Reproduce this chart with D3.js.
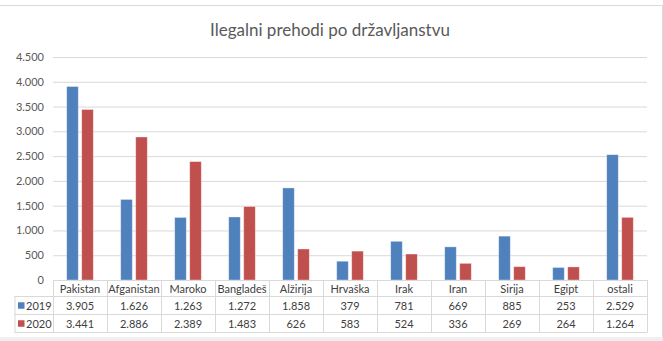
<!DOCTYPE html>
<html>
<head>
<meta charset="utf-8">
<script src="https://cdn.jsdelivr.net/npm/d3@7"></script>
<style>
  html, body { margin: 0; padding: 0; background: #fff; }
  svg { display: block; font-family: Lato, "Noto Sans", sans-serif; }
</style>
</head>
<body>
<svg id="chart" width="663" height="341"></svg>
<script>
const title = "Ilegalni prehodi po državljanstvu";
const categories = ["Pakistan", "Afganistan", "Maroko", "Bangladeš", "Alžirija", "Hrvaška", "Irak", "Iran", "Sirija", "Egipt", "ostali"];
const seriesNames = ["2019", "2020"];
const values2019 = [3905, 1626, 1263, 1272, 1858, 379, 781, 669, 885, 253, 2529];
const values2020 = [3441, 2886, 2389, 1483, 626, 583, 524, 336, 269, 264, 1264];
const yTicks = [0, 500, 1000, 1500, 2000, 2500, 3000, 3500, 4000, 4500];
const colors = ["#4F81BD", "#C0504D"];

const series = [values2019, values2020];
const locale = d3.formatLocale({ decimal: ",", thousands: ".", grouping: [3], currency: ["", ""] });
const fmt = locale.format(",");

const svg = d3.select("#chart");
const W = 663, H = 341;

// frame
svg.append("rect").attr("x", 0).attr("y", 337).attr("width", W).attr("height", 4).attr("fill", "#efefef");
svg.append("line").attr("x1", 0).attr("x2", 662.5).attr("y1", 5.5).attr("y2", 5.5).attr("stroke", "#d9d9d9");
svg.append("line").attr("x1", 662.5).attr("x2", 662.5).attr("y1", 5.5).attr("y2", 337).attr("stroke", "#d9d9d9");

const plotLeft = 53, plotRight = 647, plotTop = 57, plotBottom = 280;

const x = d3.scaleBand().domain(categories).range([plotLeft, plotRight]).padding(0);
const xs = d3.scaleBand().domain(seriesNames).range([13.7, 40.3]).paddingInner(0.227);
const y = d3.scaleLinear().domain([0, 4500]).range([plotBottom, plotTop]);

// title
svg.append("text").attr("x", 330).attr("y", 36).attr("text-anchor", "middle")
  .attr("font-size", 17).attr("fill", "#595959").text(title);

// gridlines + y axis
const yAxis = d3.axisLeft(y).tickValues(yTicks).tickFormat(fmt).tickSize(-(plotRight - plotLeft)).tickPadding(9);
const gy = svg.append("g").attr("transform", `translate(${plotLeft},0)`).call(yAxis);
gy.select(".domain").remove();
gy.selectAll(".tick line").attr("stroke", "#d9d9d9").attr("stroke-width", 1);
gy.selectAll(".tick text").attr("fill", "#595959").attr("font-size", 11).attr("font-family", "Lato, 'Noto Sans', sans-serif");
gy.selectAll(".tick").filter(d => d === 0).select("line").remove();

// bars
series.forEach((vals, si) => {
  svg.append("g").selectAll("rect").data(vals).join("rect")
    .attr("x", (d, i) => x(categories[i]) + xs(seriesNames[si]))
    .attr("width", xs.bandwidth())
    .attr("y", d => y(d))
    .attr("height", d => y(0) - y(d))
    .attr("fill", colors[si])
    .attr("stroke", "rgba(255,255,255,0.45)")
    .attr("stroke-width", 0.8);
});

// data table
const rowTop = 280, rowH = [16, 18, 18];
const r1 = rowTop + rowH[0], r2 = r1 + rowH[1], r3 = r2 + rowH[2];
const legendLeft = 14.5;
const tg = svg.append("g").attr("stroke", "#d9d9d9").attr("stroke-width", 1);
tg.append("line").attr("x1", plotLeft).attr("x2", plotRight).attr("y1", rowTop + 0.5).attr("y2", rowTop + 0.5);
[r1, r2, r3].forEach(ry => tg.append("line").attr("x1", legendLeft).attr("x2", plotRight).attr("y1", ry + 0.5).attr("y2", ry + 0.5));
tg.append("line").attr("x1", legendLeft + 0.5).attr("x2", legendLeft + 0.5).attr("y1", r1).attr("y2", r3 + 0.5);
categories.forEach(c => {
  tg.append("line").attr("x1", x(c) + 0.5).attr("x2", x(c) + 0.5).attr("y1", rowTop).attr("y2", r3 + 0.5);
});
tg.append("line").attr("x1", plotRight + 0.5).attr("x2", plotRight + 0.5).attr("y1", rowTop).attr("y2", r3 + 0.5);

const textColor = "#404040";
svg.append("g").selectAll("text").data(categories).join("text")
  .attr("x", d => x(d) + x.bandwidth() / 2).attr("y", (rowTop + r1) / 2 + 4.5)
  .attr("text-anchor", "middle").attr("font-size", 11).attr("fill", textColor).text(d => d);

series.forEach((vals, si) => {
  const top = si === 0 ? r1 : r2, bot = si === 0 ? r2 : r3;
  const cy = (top + bot) / 2 + 0.5;
  svg.append("g").selectAll("text").data(vals).join("text")
    .attr("x", (d, i) => x(categories[i]) + x.bandwidth() / 2).attr("y", cy + 4)
    .attr("text-anchor", "middle").attr("font-size", 11).attr("fill", textColor).text(d => fmt(d));
  svg.append("rect").attr("x", 18).attr("y", cy - 3.25).attr("width", 6.5).attr("height", 6.5).attr("fill", colors[si]);
  svg.append("text").attr("x", 26).attr("y", cy + 4).attr("font-size", 11).attr("fill", textColor).text(seriesNames[si]);
});
</script>
</body>
</html>
